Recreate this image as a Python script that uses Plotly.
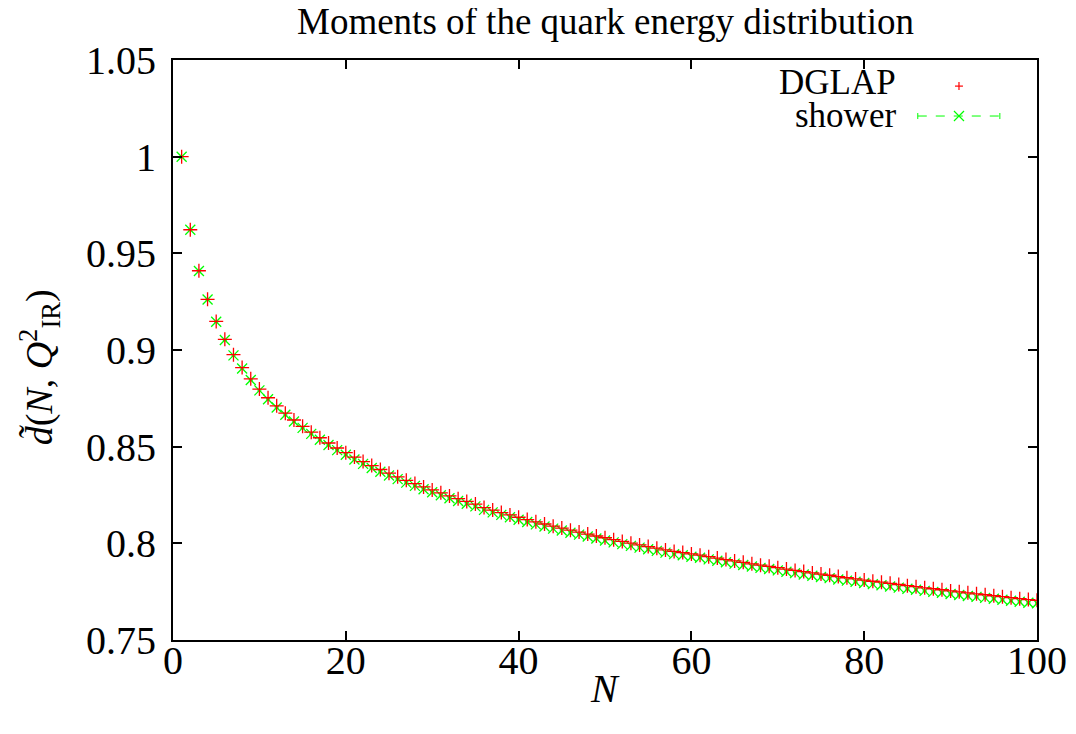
import plotly.graph_objects as go

N = list(range(1, 101))

dglap = [
    1.0000, 0.9622, 0.9410, 0.9262, 0.9148, 0.9055, 0.8976, 0.8909, 0.8851, 0.8798,
    0.8753, 0.8711, 0.8673, 0.8638, 0.8605, 0.8575, 0.8546, 0.8519, 0.8493, 0.8469,
    0.8446, 0.8423, 0.8402, 0.8382, 0.8363, 0.8344, 0.8326, 0.8309, 0.8292, 0.8276,
    0.8261, 0.8245, 0.8231, 0.8217, 0.8203, 0.8185, 0.8172, 0.8159, 0.8147, 0.8135,
    0.8123, 0.8111, 0.8100, 0.8089, 0.8079, 0.8068, 0.8058, 0.8048, 0.8038, 0.8029,
    0.8019, 0.8010, 0.8001, 0.7992, 0.7983, 0.7975, 0.7966, 0.7958, 0.7952, 0.7945,
    0.7939, 0.7931, 0.7924, 0.7916, 0.7909, 0.7902, 0.7894, 0.7887, 0.7881, 0.7874,
    0.7867, 0.7860, 0.7854, 0.7847, 0.7841, 0.7835, 0.7828, 0.7822, 0.7816, 0.7810,
    0.7804, 0.7799, 0.7793, 0.7787, 0.7781, 0.7776, 0.7770, 0.7765, 0.7760, 0.7754,
    0.7749, 0.7744, 0.7739, 0.7734, 0.7729, 0.7724, 0.7719, 0.7714, 0.7709, 0.7705,
]

shower = [
    1.0000, 0.9622, 0.9409, 0.9261, 0.9146, 0.9052, 0.8972, 0.8904, 0.8845, 0.8791,
    0.8745, 0.8703, 0.8665, 0.8630, 0.8597, 0.8566, 0.8536, 0.8509, 0.8482, 0.8458,
    0.8434, 0.8411, 0.8390, 0.8370, 0.8351, 0.8332, 0.8314, 0.8297, 0.8280, 0.8264,
    0.8249, 0.8233, 0.8219, 0.8205, 0.8191, 0.8173, 0.8160, 0.8147, 0.8135, 0.8122,
    0.8110, 0.8098, 0.8087, 0.8076, 0.8066, 0.8055, 0.8045, 0.8035, 0.8025, 0.8015,
    0.8005, 0.7996, 0.7987, 0.7978, 0.7969, 0.7961, 0.7952, 0.7944, 0.7938, 0.7931,
    0.7925, 0.7917, 0.7910, 0.7902, 0.7895, 0.7888, 0.7880, 0.7873, 0.7867, 0.7860,
    0.7853, 0.7846, 0.7839, 0.7832, 0.7826, 0.7820, 0.7813, 0.7807, 0.7801, 0.7795,
    0.7789, 0.7783, 0.7777, 0.7771, 0.7765, 0.7760, 0.7754, 0.7749, 0.7744, 0.7738,
    0.7733, 0.7728, 0.7723, 0.7718, 0.7713, 0.7708, 0.7703, 0.7698, 0.7693, 0.7690,
]

shower_err = [0.0003] * len(N)

x_ticks = [0, 20, 40, 60, 80, 100]
y_ticks = [0.75, 0.8, 0.85, 0.9, 0.95, 1.0, 1.05]
y_tick_labels = ["0.75", "0.8", "0.85", "0.9", "0.95", "1", "1.05"]

FONT = "Liberation Serif"
RED = "#ff0000"
GREEN = "#00ff00"
TICK_SIZE = 40

fig = go.Figure()

fig.add_trace(go.Scatter(
    x=N, y=shower, mode="markers", name="shower",
    marker=dict(symbol="x-thin", size=10, line=dict(color=GREEN, width=1.3)),
    error_y=dict(type="data", array=shower_err, color=GREEN, thickness=1, width=2),
    showlegend=False,
))
fig.add_trace(go.Scatter(
    x=N, y=dglap, mode="markers", name="DGLAP",
    marker=dict(symbol="cross-thin", size=10, line=dict(color=RED, width=1.3)),
    showlegend=False,
))

# gnuplot-style key: text on the left, sample on the right
shapes = []
ann = []
lx_text = 0.839
ly1, ly2 = 0.955, 0.9034
ann.append(dict(x=lx_text, y=0.962, xref="paper", yref="paper", text="DGLAP",
                showarrow=False, xanchor="right", yanchor="middle",
                font=dict(family=FONT, size=35, color="black")))
ann.append(dict(x=lx_text, y=0.905, xref="paper", yref="paper", text="shower",
                showarrow=False, xanchor="right", yanchor="middle",
                font=dict(family=FONT, size=35, color="black")))
cx = 0.9097
hx, hy = 0.0046, 0.0069
shapes.append(dict(type="line", xref="paper", yref="paper", x0=cx - hx, x1=cx + hx,
                   y0=ly1, y1=ly1, line=dict(color=RED, width=1.2)))
shapes.append(dict(type="line", xref="paper", yref="paper", x0=cx, x1=cx,
                   y0=ly1 - hy, y1=ly1 + hy, line=dict(color=RED, width=1.2)))
x0s, x1s = 0.862, 0.957
shapes.append(dict(type="line", xref="paper", yref="paper", x0=x0s, x1=x1s,
                   y0=ly2, y1=ly2, line=dict(color=GREEN, width=1, dash="dash")))
for xe in (x0s, x1s):
    shapes.append(dict(type="line", xref="paper", yref="paper", x0=xe, x1=xe,
                       y0=ly2 - 0.0052, y1=ly2 + 0.0052, line=dict(color=GREEN, width=1)))
gx, gy = 0.0058, 0.0086
shapes.append(dict(type="line", xref="paper", yref="paper", x0=cx - gx, x1=cx + gx,
                   y0=ly2 - gy, y1=ly2 + gy, line=dict(color=GREEN, width=1.2)))
shapes.append(dict(type="line", xref="paper", yref="paper", x0=cx - gx, x1=cx + gx,
                   y0=ly2 + gy, y1=ly2 - gy, line=dict(color=GREEN, width=1.2)))

# axis titles as annotations (gnuplot places them close to the tick labels)
ann.append(dict(x=0.5, y=-0.083, xref="paper", yref="paper", text="<i>N</i>",
                showarrow=False, xanchor="center", yanchor="middle",
                font=dict(family=FONT, size=TICK_SIZE, color="black")))
ann.append(dict(x=-0.154, y=0.47, xref="paper", yref="paper", textangle=-90,
                text="<i>d\u0303</i>(<i>N</i>, <i>Q</i><sup>2</sup><sub>IR</sub>)",
                showarrow=False, xanchor="center", yanchor="middle",
                font=dict(family=FONT, size=38, color="black")))
# title centred over the plotting area, as gnuplot does
ann.append(dict(x=0.5, y=1.0 + 38 / 580, xref="paper", yref="paper",
                text="Moments of the quark energy distribution",
                showarrow=False, xanchor="center", yanchor="middle",
                font=dict(family=FONT, size=37, color="black")))

fig.update_layout(
    width=1076, height=734,
    margin=dict(l=165, r=47, t=52, b=102, autoexpand=False),
    paper_bgcolor="white", plot_bgcolor="white",
    font=dict(family=FONT, color="black"),
    shapes=shapes, annotations=ann,
)

fig.update_xaxes(
    range=[0, 100], tickvals=x_ticks, ticktext=[str(v) for v in x_ticks],
    ticks="inside", ticklen=9, tickwidth=1.5, tickcolor="black",
    showline=True, linecolor="black", linewidth=2, mirror="allticks",
    showgrid=False, zeroline=False, automargin=False, ticklabelstandoff=-16,
    tickfont=dict(family=FONT, size=TICK_SIZE, color="black"),
)
fig.update_yaxes(
    range=[0.75, 1.05], tickvals=y_ticks, ticktext=y_tick_labels,
    ticks="inside", ticklen=9, tickwidth=1.5, tickcolor="black",
    showline=True, linecolor="black", linewidth=2, mirror="allticks",
    showgrid=False, zeroline=False, automargin=False, ticklabelstandoff=7,
    tickfont=dict(family=FONT, size=TICK_SIZE, color="black"),
)

fig.write_html("out.html")
